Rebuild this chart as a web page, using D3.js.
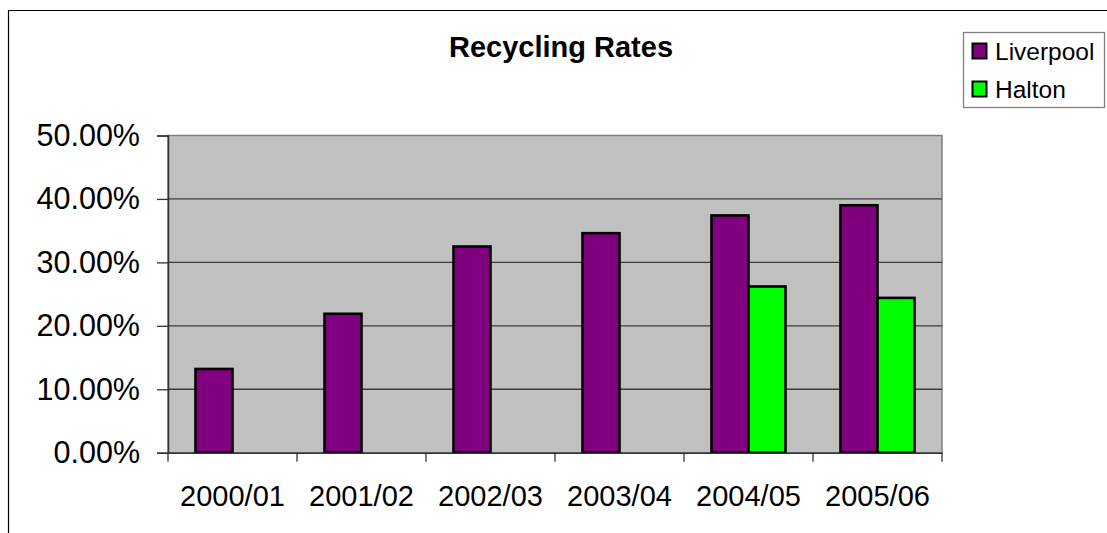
<!DOCTYPE html>
<html>
<head>
<meta charset="utf-8">
<script src="https://cdn.jsdelivr.net/npm/d3@7"></script>
<style>
  html, body { margin: 0; padding: 0; background: #fff; }
  svg { display: block; font-family: "Liberation Sans", Arial, sans-serif; }
</style>
</head>
<body>
<svg id="chart" width="1107" height="533"></svg>
<script>
// Recycling rates by financial year
const years = ["2000/01", "2001/02", "2002/03", "2003/04", "2004/05", "2005/06"];
const seriesNames = ["Liverpool", "Halton"];
const liverpool = [0.132, 0.219, 0.325, 0.346, 0.374, 0.390];
const halton = [null, null, null, null, 0.262, 0.244];
const yTicks = [0, 0.1, 0.2, 0.3, 0.4, 0.5];
const colors = ["#800080", "#00FF00"];

const svg = d3.select("#chart");

// outer chart frame (left and top edges visible within the page)
svg.append("path")
  .attr("d", "M8.5,533 V10.5 H1107")
  .attr("fill", "none").attr("stroke", "#000").attr("stroke-width", 1.2);

const plot = { left: 168, right: 942, top: 135.5, bottom: 452.7 };

const x = d3.scaleBand().domain(years).range([plot.left, plot.right]).padding(0);
const xInner = d3.scaleBand().domain(seriesNames).range([0, x.bandwidth()])
  .paddingInner(0).paddingOuter(0.743);
const y = d3.scaleLinear().domain([0, 0.5]).range([plot.bottom, plot.top]);

// plot background
svg.append("rect")
  .attr("x", plot.left).attr("y", plot.top)
  .attr("width", plot.right - plot.left).attr("height", plot.bottom - plot.top)
  .attr("fill", "#C0C0C0").attr("stroke", "#808080").attr("stroke-width", 1.5);

// horizontal gridlines
svg.append("g").selectAll("line")
  .data(yTicks.filter(t => t > 0 && t < 0.5))
  .join("line")
  .attr("x1", plot.left).attr("x2", plot.right)
  .attr("y1", d => y(d)).attr("y2", d => y(d))
  .attr("stroke", "#3c3c3c").attr("stroke-width", 1.3);

// bars
const data = years.map((yr, i) => ({ year: yr, values: [liverpool[i], halton[i]] }));
const groups = svg.append("g").selectAll("g")
  .data(data).join("g")
  .attr("transform", d => `translate(${x(d.year)},0)`);
groups.selectAll("rect")
  .data(d => d.values.map((v, j) => ({ name: seriesNames[j], v, j })).filter(e => e.v != null))
  .join("rect")
  .attr("x", d => xInner(d.name))
  .attr("width", xInner.bandwidth())
  .attr("y", d => y(d.v))
  .attr("height", d => y(0) - y(d.v))
  .attr("fill", d => colors[d.j])
  .attr("stroke", "#000").attr("stroke-width", 2.6);

// y axis
const yAxis = d3.axisLeft(y).tickValues(yTicks)
  .tickFormat(d => (d * 100).toFixed(2) + "%")
  .tickSize(11).tickPadding(17);
const gy = svg.append("g").attr("transform", `translate(${plot.left},0)`).call(yAxis);
gy.select(".domain").attr("stroke", "#333").attr("stroke-width", 1.5);
gy.selectAll(".tick line").attr("stroke", "#333").attr("stroke-width", 1.3);
gy.selectAll(".tick text").attr("fill", "#000")
  .style("font-size", "30.5px").style("font-family", "'Liberation Sans', Arial, sans-serif");

// x axis
const xAxis = d3.axisBottom(x).tickSize(0).tickPadding(0);
const gx = svg.append("g").attr("transform", `translate(0,${plot.bottom})`).call(xAxis);
gx.select(".domain").attr("stroke", "#333").attr("stroke-width", 1.5);
gx.selectAll(".tick text").attr("fill", "#000").attr("dy", null).attr("y", 53)
  .style("font-size", "29px").style("font-family", "'Liberation Sans', Arial, sans-serif");
// category divider ticks
gx.selectAll(".divider")
  .data(years.map(d => x(d)).concat([x.range()[1]]))
  .join("line").attr("class", "divider")
  .attr("x1", d => d).attr("x2", d => d)
  .attr("y1", 0).attr("y2", 9)
  .attr("stroke", "#333").attr("stroke-width", 1.3);

// title
svg.append("text")
  .attr("x", 561).attr("y", 57)
  .attr("text-anchor", "middle")
  .style("font-size", "29px").style("font-weight", "bold")
  .text("Recycling Rates");

// legend
const legend = svg.append("g");
legend.append("rect")
  .attr("x", 963.5).attr("y", 32.5).attr("width", 141).attr("height", 75)
  .attr("fill", "#fff").attr("stroke", "#808080").attr("stroke-width", 1.3);
const items = legend.selectAll("g.item").data(seriesNames).join("g").attr("class", "item")
  .attr("transform", (d, i) => `translate(0,${i * 38})`);
items.append("rect")
  .attr("x", 972.5).attr("y", 43.5).attr("width", 14).attr("height", 15)
  .attr("fill", (d, i) => colors[i]).attr("stroke", "#000").attr("stroke-width", 2);
items.append("text")
  .attr("x", 995).attr("y", 59.5)
  .style("font-size", "24.5px")
  .text(d => d);
</script>
</body>
</html>
